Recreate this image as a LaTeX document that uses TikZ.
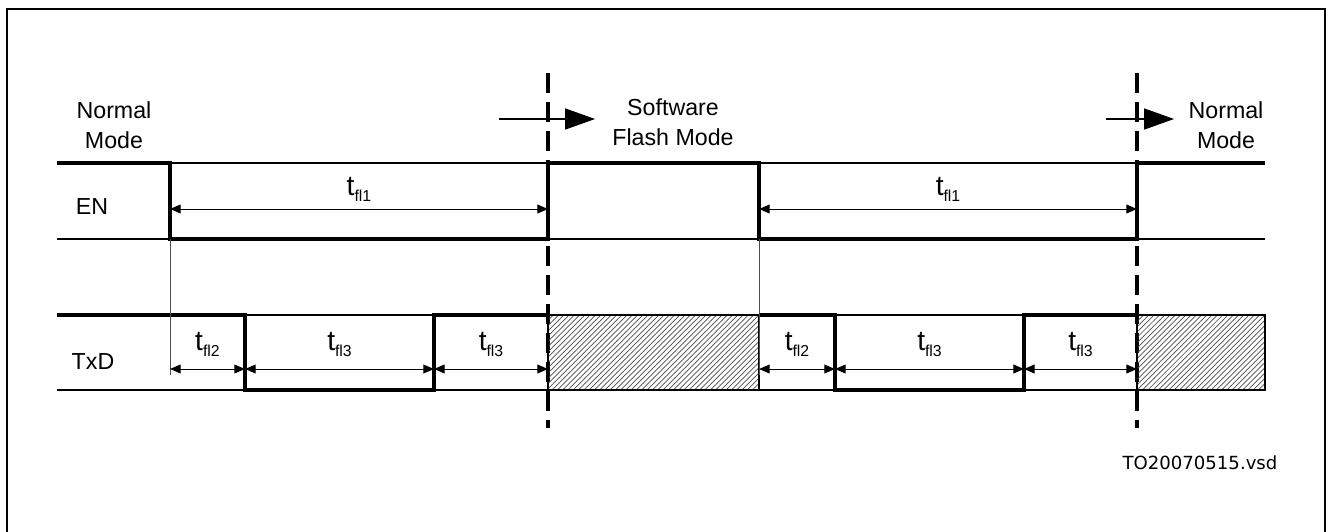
\documentclass[tikz,border=0pt]{standalone}
\usepackage{fontspec}
\setmainfont{Liberation Sans}
\newfontfamily\vsdfont{DejaVu Sans}
\usetikzlibrary{arrows.meta,patterns}
\newcommand{\tfl}[1]{{\fontsize{16}{16}\selectfont t}\raisebox{-3.5pt}{\fontsize{9}{9}\selectfont fl#1}}
\begin{document}
\begin{tikzpicture}[x=0.02cm,y=-0.02cm,line cap=butt,line join=miter,
	rail/.style={line width=0.75pt},
	sig/.style={line width=2.3pt},
	dim/.style={{Triangle[length=6pt,width=5pt]}-{Triangle[length=6pt,width=5pt]},line width=0.55pt},
	modeline/.style={line width=2.3pt,dash pattern=on 11.34pt off 5.1pt},
	modearrow/.style={-{Triangle[length=17pt,width=12pt]},line width=0.6pt},
	lbl/.style={font=\fontsize{13.2}{17}\selectfont,align=center,inner sep=0pt},
	tlbl/.style={lbl,yshift=#1},
	hatch/.style={pattern=north east lines,pattern color=black!70,line width=1.2pt}]
	\useasboundingbox (0,0) rectangle (1331,531);
	\draw[line width=0.6pt] (7,540) |- (1325,9) -- (1325,540);
	
	% rails
	\draw[rail] (57,163)--(1265,163) (57,239)--(1265,239);
	\draw[rail] (57,315)--(1265,315) (57,390)--(1265,390);
	
	% mode change
	\draw[modeline] (548,73)--(548,428);
	\draw[modeline] (1137,73)--(1137,428);
	\coordinate (m1) at (499,119);
	\coordinate (m2) at (595,119);
	\coordinate (m3) at (1106,119);
	\coordinate (m4) at (1174,119);
	\draw[modearrow] (m1)--(m2);
	\draw[modearrow] (m3)--(m4);
	\node[lbl] (normal1) at (114,125) {Normal\\Mode};
	\node[lbl] (flash) at (673,122) {Software\\Flash Mode};
	\node[lbl] (normal2) at (1226,125) {Normal\\Mode};
	
	% signals
	\node[lbl] (en) at (92,207) {EN};
	\node[lbl] (txd) at (93,362) {TxD};
	\draw[sig] (57,163)--(170,163)--(170,239)--(548,239)--(548,163)--(759,163)--(759,239)--(1137,239)--(1137,163)--(1265,163);
	\draw[hatch] (548,315) rectangle (759,390);
	\draw[hatch] (1137,315) rectangle (1265,390);
	\draw[sig] (57,315)--(245,315)--(245,390)--(434,390)--(434,315)--(548,315);
	\draw[sig] (759,315)--(835,315)--(835,390)--(1024,390)--(1024,315)--(1137,315);
	\draw[line width=0.5pt,black!70] (170,239)--(170,375) (759,239)--(759,375);
	
	% timing
	\coordinate (e0) at (170,209);
	\coordinate (e1) at (548,209);
	\coordinate (e2) at (759,209);
	\coordinate (e3) at (1137,209);
	\draw[dim] (e0)--(e1) node[midway,tlbl=11pt]{\tfl{1}};
	\draw[dim] (e2)--(e3) node[midway,tlbl=11pt]{\tfl{1}};
	\coordinate (d0) at (170,369);
	\coordinate (d1) at (245,369);
	\coordinate (d2) at (434,369);
	\coordinate (d3) at (548,369);
	\coordinate (d4) at (759,369);
	\coordinate (d5) at (835,369);
	\coordinate (d6) at (1024,369);
	\coordinate (d7) at (1137,369);
	\foreach \a/\b/\n in {d0/d1/2,d1/d2/3,d2/d3/3,d4/d5/2,d5/d6/3,d6/d7/3}{
		\draw[dim] (\a)--(\b) node[midway,tlbl=14pt]{\tfl{\n}};
	}
	
	\node[font=\vsdfont\fontsize{10.3}{12}\selectfont,inner sep=0pt] (file) at (1200,463) {TO20070515.vsd};
\end{tikzpicture}
\end{document}
